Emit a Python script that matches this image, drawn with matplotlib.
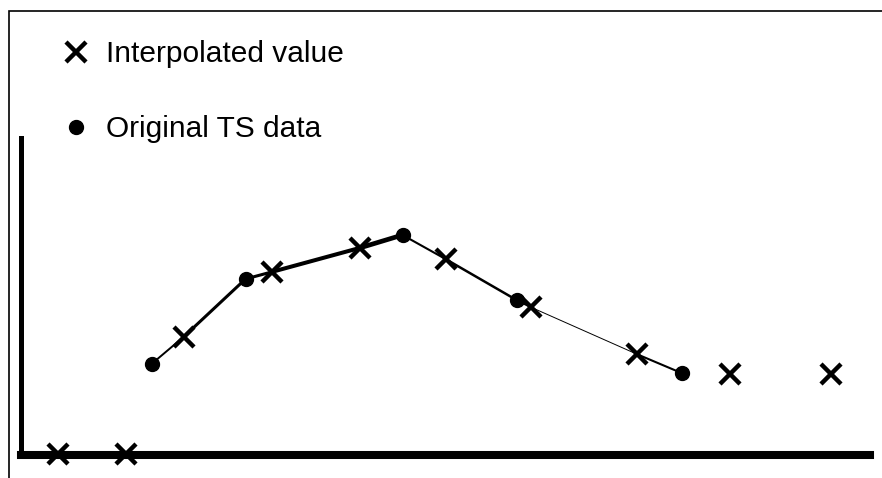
import matplotlib.pyplot as plt
from matplotlib.patches import Rectangle

# values (time on x, value on y, arbitrary units)
orig_t = [13.1, 22.5, 38.2, 49.6, 66.1]
orig_v = [9.1, 17.6, 22.0, 15.5, 8.2]

interp_t = [3.7, 10.5, 16.3, 25.1, 33.9, 42.5, 51.0, 61.6, 70.9, 81.0]
interp_v = [0.1, 0.1, 11.8, 18.3, 20.7, 19.6, 14.8, 10.1, 8.1, 8.1]

LEGEND_LABELS = ["Interpolated value", "Original TS data"]

# line widths (pt) of each connecting segment, left to right
SEG_WIDTHS = [1.4, 2.2, 2.2, 2.9, 3.4, 1.5, 1.8, 1.5, 0.7, 1.5]

plt.rcParams['font.family'] = ['Liberation Sans', 'DejaVu Sans']

W, H = 882, 478
fig = plt.figure(figsize=(W / 100, H / 100), dpi=100)
ax = fig.add_axes([20.5 / W, 23 / H, (870 - 20.5) / W, (455 - 138) / H])

# merge both series within the observed range and connect them
t0, t1 = min(orig_t), max(orig_t)
pts = sorted([(t, v) for t, v in zip(orig_t, orig_v)] +
             [(t, v) for t, v in zip(interp_t, interp_v) if t0 <= t <= t1])
for i in range(len(pts) - 1):
    (xa, ya), (xb, yb) = pts[i], pts[i + 1]
    ax.plot([xa, xb], [ya, yb], color="black",
            lw=SEG_WIDTHS[i % len(SEG_WIDTHS)], solid_capstyle="butt", zorder=2)

hx, = ax.plot(interp_t, interp_v, ls="none", marker="x", ms=14, mew=3.2,
              color="black", label=LEGEND_LABELS[0], zorder=4, clip_on=False)
ho, = ax.plot(orig_t, orig_v, ls="none", marker="o", ms=10,
              color="black", label=LEGEND_LABELS[1], zorder=3, clip_on=False)

ax.set_xlim(0, (870 - 20.5) / 10)
ax.set_ylim(0, 31.7)
ax.set_xticks([])
ax.set_yticks([])
for s in ["top", "right"]:
    ax.spines[s].set_visible(False)
ax.spines["left"].set_linewidth(3.6)
ax.spines["bottom"].set_linewidth(5.8)
ax.patch.set_alpha(0)

fig.legend(handles=[hx, ho], loc="upper left",
           bbox_to_anchor=(61 / W, 1 - 40 / H), frameon=False,
           fontsize=21.5, handlelength=1.0, handletextpad=0.5,
           labelspacing=1.58, borderpad=0, borderaxespad=0)

# thin outer frame (only the top and left edges are in view)
fig.add_artist(Rectangle((8.8 / W, -0.5), 2, 1.5 - 10.8 / H,
                         transform=fig.transFigure, fill=False,
                         lw=1.2, edgecolor="black"))

fig.savefig("out.png", dpi=100)
